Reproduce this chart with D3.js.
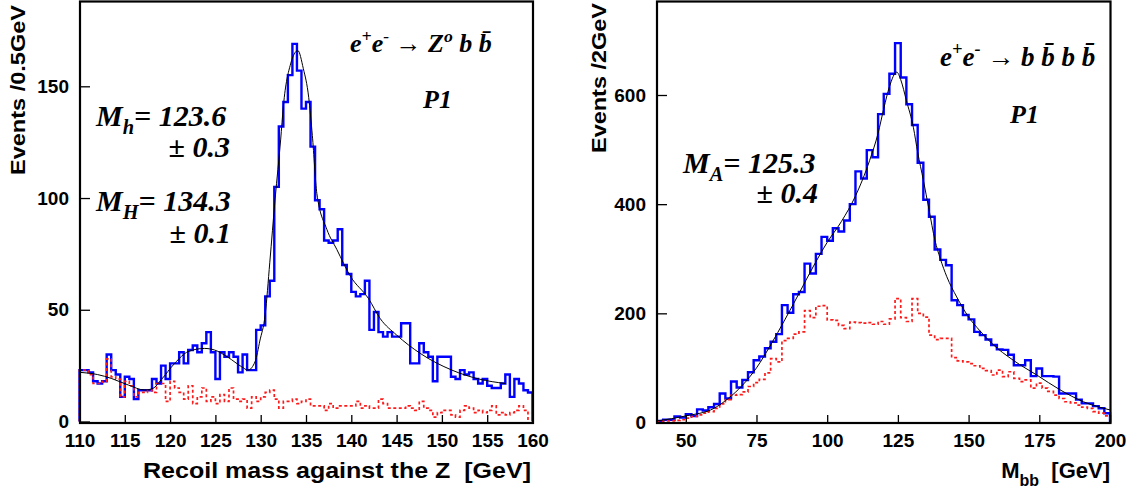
<!DOCTYPE html>
<html><head><meta charset="utf-8">
<script src="https://cdn.jsdelivr.net/npm/d3@7"></script>
<style>body{margin:0;background:#fff} svg{display:block}</style>
</head><body><svg id="c" width="1133" height="490"></svg>
<script>
// ---------------- DATA ----------------
// Left panel: recoil mass against the Z, 0.5 GeV bins from 110 to 160
const leftBinStart = 110, leftBinWidth = 0.5;
const leftSignal = [23,23,22,18,17,18,30,23,21,11,
  20,19,10,14,14,14,19,17,25,19,
  26,26,31,26,32,34,31,35,40,31,
  19,31,29,31,29,22,30,23,23,41,
  43,56,63,105,132,143,155,169,157,140,
  143,123,99,95,81,80,81,86,70,66,
  58,56,57,63,41,49,40,38,40,38,
  38,44,44,26,26,35,31,29,18,29,
  29,29,20,19,23,21,22,19,17,19,
  16,15,15,17,21,11,19,17,14,13];
const leftBackground = [23,23,21,17,17,18,28,20,19,11,
  18,16,11,13,13,14,13,17,17,9,
  18,15,13,10,16,8,11,15,9,11,
  8,12,9,15,10,9,10,6,11,9,
  11,13,14,10,6,9,9,10,8,9,
  10,7,7,7,5,8,6,7,7,7,
  7,9,6,7,6,6,10,8,6,6,
  6,6,7,6,5,9,6,5,2,4,
  5,5,3,2,5,7,6,4,5,4,
  5,7,3,4,3,4,5,7,5,1];
const leftFitX = [110,112,113.5,115.4,117.2,118.1,119,120.5,122,123.8,124.9,126.4,127.9,128.6,129.4,129.9,130.5,131,131.6,132.2,132.5,133.3,134.1,134.7,135.3,135.7,136.2,137.3,138.4,139.9,141.9,143.2,145,147.6,151.1,154.1,157];
const leftFitY = [22,21,19.3,16.3,14.1,14.8,18.6,26,31.3,32.7,32,28.7,24.5,23,27,36,48,71,100,126,141,160,166,158,145,128,102,86,77,65,55,46,38.7,30.5,23,19,17];
const leftXTicks = [110,115,120,125,130,135,140,145,150,155,160];
const leftYTicks = [0,50,100,150];

// Right panel: M_bb, 2 GeV bins from 40 to 200
const rightBinStart = 40, rightBinWidth = 2;
const rightSignal = [3,5,5,11,9,15,12,24,22,28,
  34,53,44,75,64,78,92,114,121,136,
  148,162,215,201,235,239,291,273,309,340,
  333,356,350,370,400,460,447,499,486,565,
  602,639,695,632,583,545,476,408,377,317,
  298,288,224,215,197,189,166,160,152,142,
  134,133,124,105,105,114,85,99,85,85,
  84,53,53,53,42,35,35,30,26,17];
const rightBackground = [2,3,3,4,5,8,11,14,17,20,
  26,34,42,50,51,56,66,73,79,91,
  117,111,150,154,162,166,205,192,213,214,
  188,187,178,172,184,183,182,183,180,185,
  180,190,227,192,185,227,200,193,160,152,
  154,154,119,113,111,108,104,99,95,87,
  96,84,93,81,75,78,63,72,63,57,
  50,44,38,36,32,28,26,20,17,12];
const rightFitX = [40,50,60,65,70,75,80,85,90,95,100,105,110,115,118,120,122,124.6,126,128,130.5,132,134,136,138.1,140,142.3,145.8,149.9,154,158.2,165.8,174.1,182.3,190.6,200];
const rightFitY = [3,12,26,44,68,100,142,188,236,285,330,368,415,480,530,575,615,642,628,590,540,495,444,390,334,300,267,230,194,168,145,114,87,60,38,23];
const rightXTicks = [50,75,100,125,150,175,200];
const rightYTicks = [0,200,400,600];

// ---------------- DRAWING ----------------
const svg = d3.select('#c');
const tickFont = "'Liberation Sans', Arial, sans-serif";
const serif = "'Liberation Serif', 'Times New Roman', serif";

function histPoints(start, width, vals) {
  const pts = [[start, 0]];
  vals.forEach((v, i) => pts.push([start + i * width, v]));
  const end = start + vals.length * width;
  pts.push([end, vals[vals.length - 1]]);
  pts.push([end, 0]);
  return pts;
}

function drawPanel(p) {
  const x = d3.scaleLinear().domain(p.xDomain).range(p.xRange);
  const y = d3.scaleLinear().domain(p.yDomain).range(p.yRange);
  const g = svg.append('g');

  const step = d3.line().x(d => x(d[0])).y(d => y(d[1])).curve(d3.curveStepAfter);
  g.append('path').attr('d', step(histPoints(p.binStart, p.binWidth, p.signal)))
    .attr('fill', 'none').attr('stroke', '#0000ff').attr('stroke-width', 2.4);
  g.append('path').attr('d', step(histPoints(p.binStart, p.binWidth, p.background)))
    .attr('fill', 'none').attr('stroke', '#ff1a1a').attr('stroke-width', 1.7)
    .attr('stroke-dasharray', '3,2.5');
  const fit = d3.line().x(d => x(d[0])).y(d => y(d[1])).curve(d3.curveMonotoneX);
  g.append('path').attr('d', fit(p.fitX.map((v, i) => [v, p.fitY[i]])))
    .attr('fill', 'none').attr('stroke', '#000').attr('stroke-width', 1);

  // axes
  const ax = g.append('g').attr('transform', `translate(0,${p.frame[3]})`)
    .call(d3.axisBottom(x).tickValues(p.xTicks).tickSize(-8).tickPadding(11).tickFormat(d3.format('d')));
  const ay = g.append('g').attr('transform', `translate(${p.frame[0]},0)`)
    .call(d3.axisLeft(y).tickValues(p.yTicks).tickSize(-10).tickPadding(11).tickFormat(d3.format('d')));
  [ax, ay].forEach(a => {
    a.select('.domain').remove();
    a.selectAll('line').attr('stroke', '#000').attr('stroke-width', 1.3);
    a.selectAll('text').attr('font-family', tickFont).attr('font-weight', 'bold')
      .attr('font-size', 19).attr('fill', '#000');
  });

  // frame
  g.append('rect').attr('x', p.frame[0]).attr('y', p.frame[1])
    .attr('width', p.frame[2] - p.frame[0]).attr('height', p.frame[3] - p.frame[1])
    .attr('fill', 'none').attr('stroke', '#000').attr('stroke-width', 2.2);
}

drawPanel({
  xDomain: [110, 160], xRange: [79.5, 532.5], yDomain: [0, 150], yRange: [421.5, 86.3],
  frame: [80, 1.5, 533, 423], binStart: leftBinStart, binWidth: leftBinWidth,
  signal: leftSignal, background: leftBackground, fitX: leftFitX, fitY: leftFitY,
  xTicks: leftXTicks, yTicks: leftYTicks
});
drawPanel({
  xDomain: [40, 200], xRange: [657.5, 1110], yDomain: [0, 600], yRange: [422.5, 95],
  frame: [657, 1.5, 1110.5, 423], binStart: rightBinStart, binWidth: rightBinWidth,
  signal: rightSignal, background: rightBackground, fitX: rightFitX, fitY: rightFitY,
  xTicks: rightXTicks, yTicks: rightYTicks
});

// axis titles
function yTitle(xb, yStart, len, label) {
  svg.append('text').attr('transform', `translate(${xb},${yStart}) rotate(-90)`)
    .attr('font-family', tickFont).attr('font-weight', 'bold').attr('font-size', 21)
    .attr('textLength', len).attr('lengthAdjust', 'spacingAndGlyphs').text(label);
}
yTitle(25, 175, 170, 'Events /0.5GeV');
yTitle(606, 153, 150, 'Events /2GeV');

svg.append('text').attr('x', 143).attr('y', 478).style('white-space', 'pre')
  .attr('font-family', tickFont).attr('font-weight', 'bold').attr('font-size', 22)
  .attr('textLength', 388).attr('lengthAdjust', 'spacingAndGlyphs')
  .text('Recoil mass against the Z  [GeV]');

const mt = svg.append('text').attr('x', 1110).attr('y', 478).attr('text-anchor', 'end')
  .style('white-space', 'pre').attr('font-family', tickFont).attr('font-weight', 'bold').attr('font-size', 22);
mt.append('tspan').text('M');
mt.append('tspan').attr('dy', 8).attr('font-size', 16).text('bb');
mt.append('tspan').attr('dy', -8).text('  [GeV]');

// annotations (serif bold italic)
function rich(xp, yp, size, segs, anchor) {
  const t = svg.append('text').attr('x', xp).attr('y', yp).attr('font-family', serif)
    .attr('font-weight', 'bold').attr('font-style', 'italic').attr('font-size', size)
    .attr('text-anchor', anchor || 'start').style('white-space', 'pre');
  let shift = 0;
  segs.forEach(s => {
    const target = s.sup ? -size * 0.4 : s.sub ? size * 0.28 : 0;
    const sp = t.append('tspan').attr('dy', target - shift).text(s.t);
    if (s.sup || s.sub) sp.attr('font-size', size * 0.68);
    if (s.up) sp.attr('font-style', 'normal');
    shift = target;
  });
  return t;
}
const bbar = 'b\u0304';
rich(350, 52, 26, [{t:'e'},{t:'+',sup:1},{t:'e'},{t:'-',sup:1},{t:' \u2192 Z'},{t:'o',sup:1},{t:' b '+bbar}]);
rich(423, 108, 26, [{t:'P1'}]);
rich(96, 126, 30, [{t:'M'},{t:'h',sub:1},{t:'= 123.6'}]);
rich(230, 157, 30, [{t:'\u00b1',up:1},{t:' 0.3'}], 'end');
rich(96, 211, 30, [{t:'M'},{t:'H',sub:1},{t:'= 134.3'}]);
rich(231, 243, 30, [{t:'\u00b1',up:1},{t:' 0.1'}], 'end');

rich(940, 66, 27, [{t:'e'},{t:'+',sup:1},{t:'e'},{t:'-',sup:1},{t:' \u2192 b '+bbar+' b '+bbar}]);
rich(1010, 123, 26, [{t:'P1'}]);
rich(683, 173, 30, [{t:'M'},{t:'A',sub:1},{t:'= 125.3'}]);
rich(818, 203, 30, [{t:'\u00b1',up:1},{t:' 0.4'}], 'end');
</script>
</body></html>
